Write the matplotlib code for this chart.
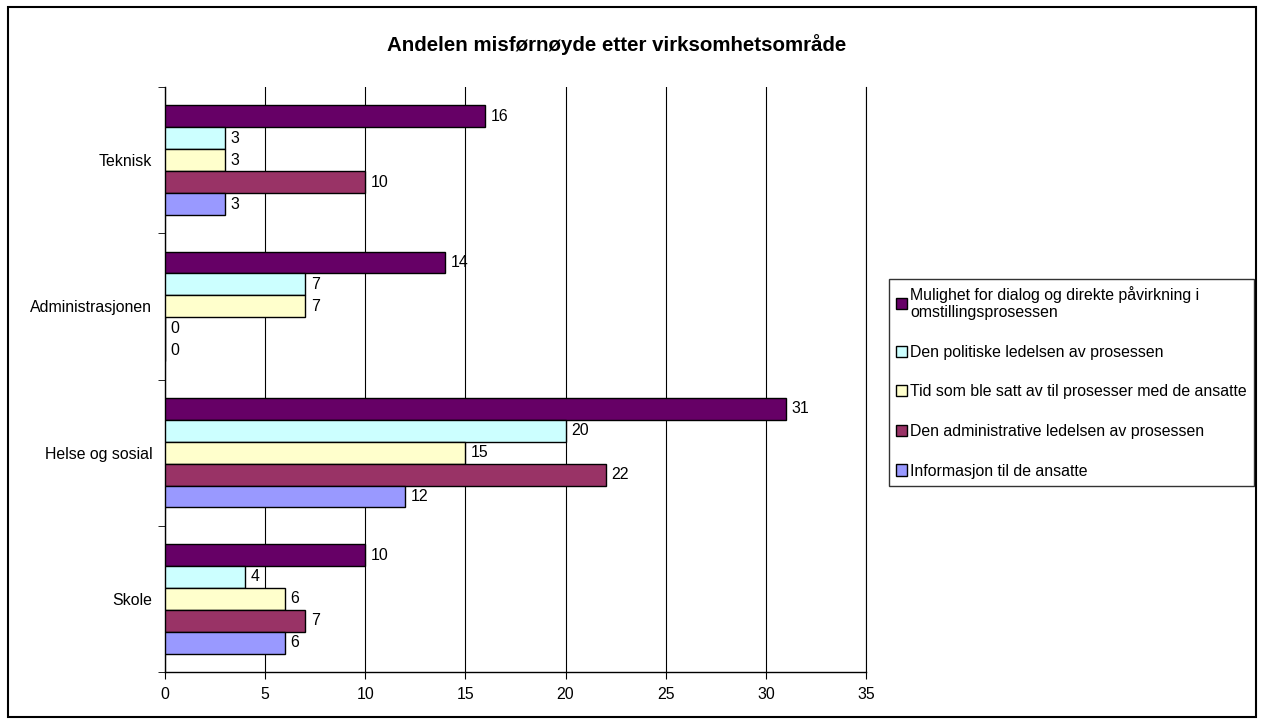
import matplotlib.pyplot as plt
import numpy as np
from matplotlib.patches import Rectangle

plt.rcParams.update(
    {
        "font.family": "sans-serif",
        "font.sans-serif": ["Liberation Sans", "Arial", "DejaVu Sans"],
        "font.size": 11.4,
    }
)

categories = ["Teknisk", "Administrasjonen", "Helse og sosial", "Skole"]
series_names = [
    "Mulighet for dialog og direkte påvirkning i\nomstillingsprosessen",
    "Den politiske ledelsen av prosessen",
    "Tid som ble satt av til prosesser med de ansatte",
    "Den administrative ledelsen av prosessen",
    "Informasjon til de ansatte",
]
mulighet = [16, 14, 31, 10]
politiske = [3, 7, 20, 4]
tid = [3, 7, 15, 6]
administrative = [10, 0, 22, 7]
informasjon = [3, 0, 12, 6]
series_values = [mulighet, politiske, tid, administrative, informasjon]
colors = ["#660066", "#CCFFFF", "#FFFFCC", "#993366", "#9999FF"]
x_ticks = [0, 5, 10, 15, 20, 25, 30, 35]

fig = plt.figure(figsize=(12.64, 7.24), dpi=100)
ax = fig.add_axes([0.1305, 0.0718, 0.5546, 0.808])

y = np.arange(len(categories))
h = 0.15
handles = []
for i, (vals, col, name) in enumerate(zip(series_values, colors, series_names)):
    bars = ax.barh(y + (i - 2) * h, vals, height=h, color=col,
                   edgecolor="black", linewidth=1, label=name, zorder=3)
    ax.bar_label(bars, padding=4, fontsize=11.4)
    handles.append(bars)

ax.set_xlim(0, 35)
ax.set_ylim(len(categories) - 0.5, -0.5)
ax.set_xticks(x_ticks)
ax.set_yticks(y)
ax.set_yticklabels(categories)
ax.set_yticks(np.arange(len(categories) + 1) - 0.5, minor=True)
ax.tick_params(axis="y", which="major", length=0, pad=9)
ax.tick_params(axis="y", which="minor", length=5, direction="out")
ax.tick_params(axis="x", length=5, direction="out", pad=6)
ax.grid(axis="x", color="black", linewidth=0.8, zorder=0)
ax.spines["top"].set_visible(False)
ax.spines["right"].set_linewidth(0.8)
for s in ["left", "bottom"]:
    ax.spines[s].set_linewidth(1)

fig.text(0.488, 0.939, "Andelen misførnøyde etter virksomhetsområde",
         ha="center", va="center", fontsize=14.8, fontweight="bold")

leg = fig.legend(handles=handles, loc="center left", bbox_to_anchor=(0.703, 0.472),
                 frameon=True, fancybox=False, edgecolor="black", fontsize=11.4,
                 handlelength=0.7, handleheight=0.7, handletextpad=0.2,
                 labelspacing=1.55, borderpad=0.45, borderaxespad=0)
leg.get_frame().set_linewidth(1)

fig.patches.append(Rectangle((0.006, 0.01), 0.988, 0.98, transform=fig.transFigure,
                             fill=False, edgecolor="black", linewidth=1.5))

fig.savefig("out.png", dpi=100)
